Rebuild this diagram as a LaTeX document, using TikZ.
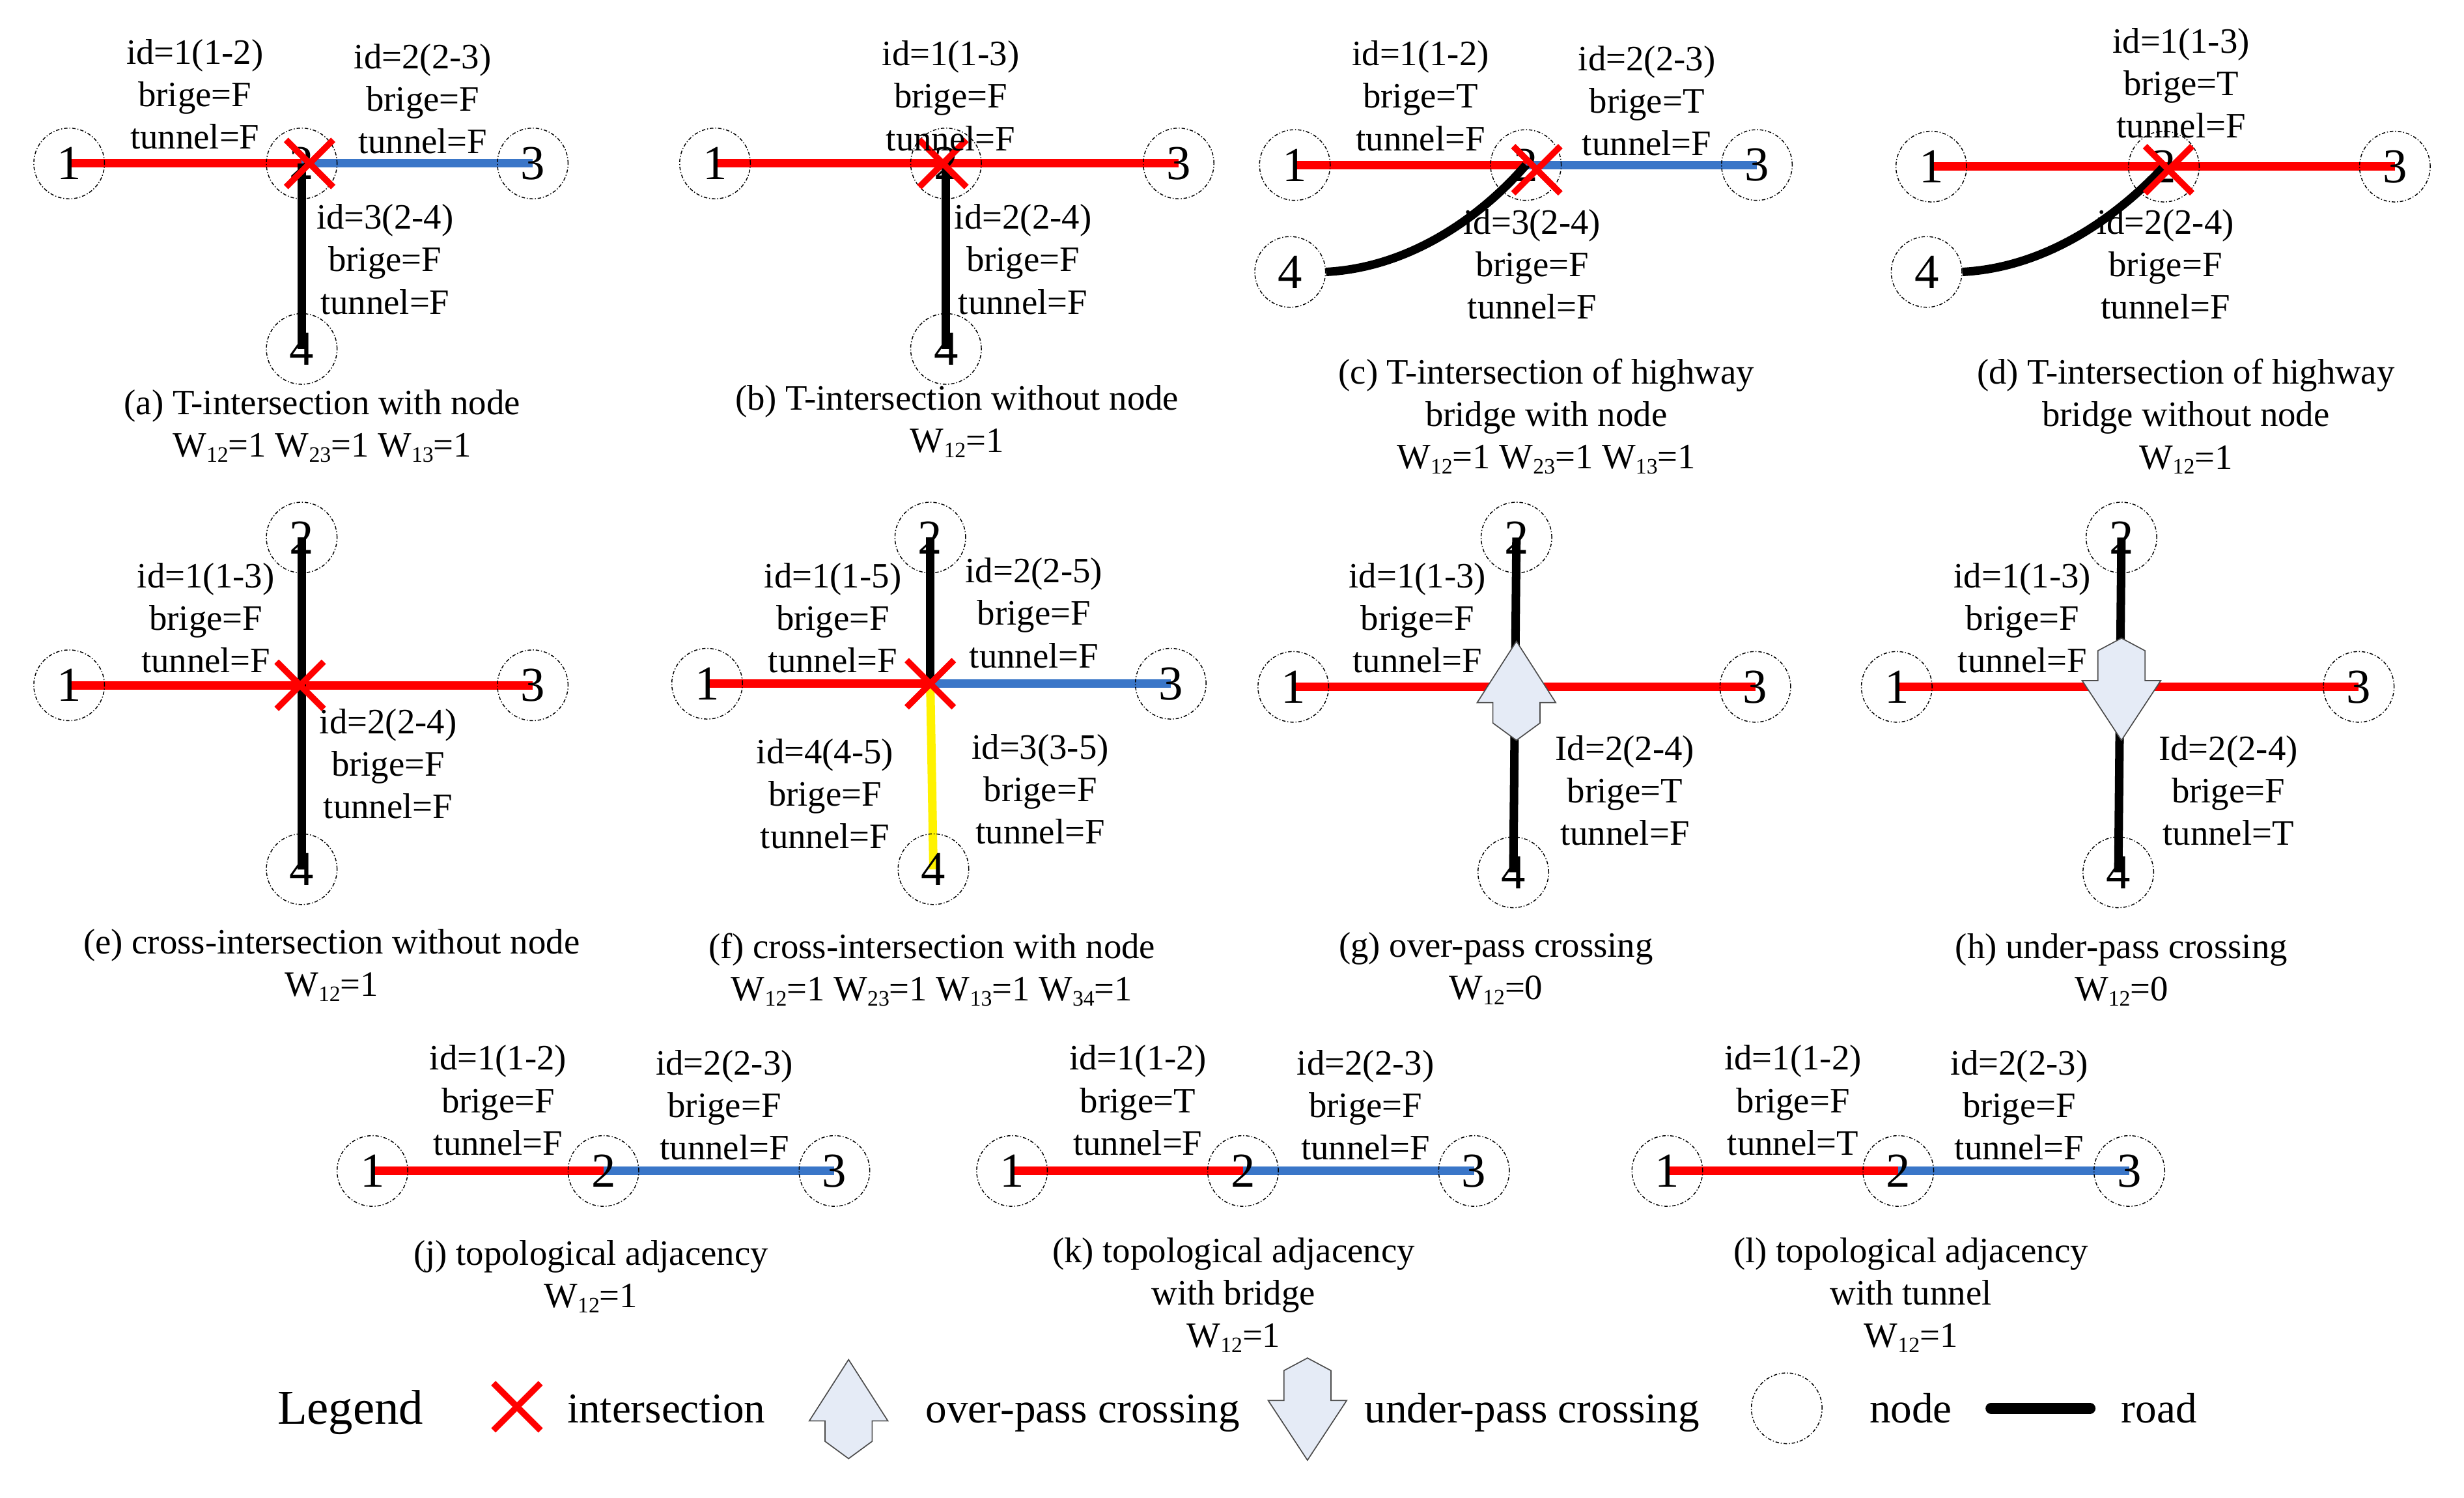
\documentclass[tikz,border=0pt]{standalone}
\usepackage{fontspec}
\setmainfont{Liberation Serif}
\usetikzlibrary{shapes.misc,backgrounds}
\definecolor{roadblue}{RGB}{58,118,200}
\definecolor{passfill}{RGB}{229,235,246}
\newcommand{\W}[1]{W\raisebox{-1.6pt}{\fontsize{7}{7}\selectfont #1}}
\begin{document}
\begin{tikzpicture}[
            x=0.5pt, y=-0.5pt,
            vertex/.style={circle, draw, dash pattern=on 1.1pt off 0.6pt on 0.3pt off 0.6pt, line width=0.3pt, minimum size=22.5pt, inner sep=0pt, font=\fontsize{15.5}{16}\selectfont},
            info/.style={align=center, inner sep=0pt, font=\fontsize{11.35}{13.5}\selectfont},
            legendtext/.style={anchor=base, inner sep=0pt, font=\fontsize{13.5}{15}\selectfont},
            crossmark/.style={cross out, draw=red, line width=2pt, minimum size=13pt, inner sep=0pt},
            redroad/.style={red, line width=2.7pt},
            blueroad/.style={roadblue, line width=2.7pt},
            blackroad/.style={black, line width=2.7pt},
            yellowroad/.style={yellow, line width=2.7pt},
            passage/.style={draw=black!70, line width=0.35pt, fill=passfill},
            overpass/.pic={\path[passage] (0,0) -- (25,39) -- (15,39) -- (15,52) -- (0,63) -- (-15,52) -- (-15,39) -- (-25,39) -- cycle;},
            underpass/.pic={\path[passage] (0,0) -- (15,8) -- (15,27) -- (25,27) -- (0,65) -- (-25,27) -- (-15,27) -- (-15,8) -- cycle;}
        ]
            \useasboundingbox (0,0) rectangle (1568,953);

            % nodes of each panel
            \foreach \n/\x/\y/\t in {a1/44/104/1,a2/192/104/2,a3/339/104/3,a4/192/222/4,
                    b1/455/104/1,b2/602/104/2,b3/750/104/3,b4/602/222/4,
                    c1/824/105/1,c2/971/105/2,c3/1118/105/3,c4/821/173/4,
                    d1/1229/106/1,d2/1377/106/2,d3/1524/106/3,d4/1226/173/4,
                    e1/44/436/1,e2/192/342/2,e3/339/436/3,e4/192/553/4,
                    f1/450/435/1,f2/592/342/2,f3/745/435/3,f4/594/553/4,
                    g1/823/437/1,g2/965/342/2,g3/1117/437/3,g4/963/555/4,
                    h1/1207/437/1,h2/1350/342/2,h3/1501/437/3,h4/1348/555/4,
                    j1/237/745/1,j2/384/745/2,j3/531/745/3,
                    k1/644/745/1,k2/791/745/2,k3/938/745/3,
                    l1/1061/745/1,l2/1208/745/2,l3/1355/745/3} {
                \node[vertex] (\n) at (\x,\y) {\t};
            }

            % intersections
            \foreach \n/\x/\y in {xa/197/104,xb/600/104,xc/978/108,xd/1380/108,xe/191/436,xf/592/435} {
                \node[crossmark] (\n) at (\x,\y) {};
            }

            \begin{pgfonlayer}{background}
                \foreach \s/\e in {a1/a2,b1/b3,c1/c2,d1/d3,e1/e3,f1/xf,g1/g3,h1/h3,j1/j2,k1/k2,l1/l2} {
                    \draw[redroad] (\s.center) -- (\e.center);
                }
                \foreach \s/\e in {a2/a3,c2/c3,xf/f3,j2/j3,k2/k3,l2/l3} {
                    \draw[blueroad] (\s.center) -- (\e.center);
                }
                \foreach \s/\e in {a2/a4,b2/b4,e2/e4,f2/xf,g2/g4,h2/h4} {
                    \draw[blackroad] (\s.center) -- (\e.center);
                }
                \draw[yellowroad] (xf.center) -- (f4.center);
                \draw[blackroad] (c4.east) .. controls (900,170) and (945,135) .. (c2.center);
                \draw[blackroad] (d4.east) .. controls (1305,170) and (1350,135) .. (d2.center);
            \end{pgfonlayer}

            \pic (og) at (965,408) {overpass};
            \pic (uh) at (1350,406) {underpass};

            % road attributes
            \foreach \n/\x/\y/\t in {
                    ia1/124/60/{id=1(1-2)\\brige=F\\tunnel=F},
                    ia2/269/63/{id=2(2-3)\\brige=F\\tunnel=F},
                    ia3/245/165/{id=3(2-4)\\brige=F\\tunnel=F},
                    ib1/605/61/{id=1(1-3)\\brige=F\\tunnel=F},
                    ib2/651/165/{id=2(2-4)\\brige=F\\tunnel=F},
                    ic1/904/61/{id=1(1-2)\\brige=T\\tunnel=F},
                    ic2/1048/64/{id=2(2-3)\\brige=T\\tunnel=F},
                    ic3/975/168/{id=3(2-4)\\brige=F\\tunnel=F},
                    id1/1388/53/{id=1(1-3)\\brige=T\\tunnel=F},
                    id2/1378/168/{id=2(2-4)\\brige=F\\tunnel=F},
                    ie1/131/393/{id=1(1-3)\\brige=F\\tunnel=F},
                    ie2/247/486/{id=2(2-4)\\brige=F\\tunnel=F},
                    if1/530/393/{id=1(1-5)\\brige=F\\tunnel=F},
                    if2/658/390/{id=2(2-5)\\brige=F\\tunnel=F},
                    if3/662/502/{id=3(3-5)\\brige=F\\tunnel=F},
                    if4/525/505/{id=4(4-5)\\brige=F\\tunnel=F},
                    ig1/902/393/{id=1(1-3)\\brige=F\\tunnel=F},
                    ig2/1034/503/{Id=2(2-4)\\brige=T\\tunnel=F},
                    ih1/1287/393/{id=1(1-3)\\brige=F\\tunnel=F},
                    ih2/1418/503/{Id=2(2-4)\\brige=F\\tunnel=T},
                    ij1/317/700/{id=1(1-2)\\brige=F\\tunnel=F},
                    ij2/461/703/{id=2(2-3)\\brige=F\\tunnel=F},
                    ik1/724/700/{id=1(1-2)\\brige=T\\tunnel=F},
                    ik2/869/703/{id=2(2-3)\\brige=F\\tunnel=F},
                    il1/1141/700/{id=1(1-2)\\brige=F\\tunnel=T},
                    il2/1285/703/{id=2(2-3)\\brige=F\\tunnel=F}} {
                \node[info] (\n) at (\x,\y) {\t};
            }

            % captions
            \node[info] (ca) at (205,271) {(a) T-intersection with node\\\W{12}=1 \W{23}=1 \W{13}=1};
            \node[info] (cb) at (609,268) {(b) T-intersection without node\\\W{12}=1};
            \node[info] (cc) at (984,265) {(c) T-intersection of highway\\bridge with node\\\W{12}=1 \W{23}=1 \W{13}=1};
            \node[info] (cd) at (1391,265) {(d) T-intersection of highway\\bridge without node\\\W{12}=1};
            \node[info] (ce) at (211,614) {(e) cross-intersection without node\\\W{12}=1};
            \node[info] (cf) at (593,617) {(f) cross-intersection with node\\\W{12}=1 \W{23}=1 \W{13}=1 \W{34}=1};
            \node[info] (cg) at (952,616) {(g) over-pass crossing\\\W{12}=0};
            \node[info] (ch) at (1350,617) {(h) under-pass crossing\\\W{12}=0};
            \node[info] (cj) at (376,812) {(j) topological adjacency\\\W{12}=1};
            \node[info] (ck) at (785,824) {(k) topological adjacency\\with bridge\\\W{12}=1};
            \node[info] (cl) at (1216,824) {(l) topological adjacency\\with tunnel\\\W{12}=1};

            % legend
            \node[legendtext, font=\fontsize{15.5}{17}\selectfont] (legend) at (223,906) {Legend};
            \node[crossmark] (lx) at (329,895) {};
            \node[legendtext] (lt1) at (424,905) {intersection};
            \pic (lo) at (540,865) {overpass};
            \node[legendtext] (lt2) at (689,905) {over-pass crossing};
            \pic (lu) at (832,864) {underpass};
            \node[legendtext] (lt3) at (975,905) {under-pass crossing};
            \node[vertex] (ln) at (1137,896) {};
            \node[legendtext] (lt4) at (1216,905) {node};
            \coordinate (r1) at (1267,896);
            \coordinate (r2) at (1330,896);
            \draw[blackroad, line width=3.5pt, line cap=round] (r1) -- (r2);
            \node[legendtext] (lt5) at (1374,905) {road};

        \end{tikzpicture}
\end{document}
